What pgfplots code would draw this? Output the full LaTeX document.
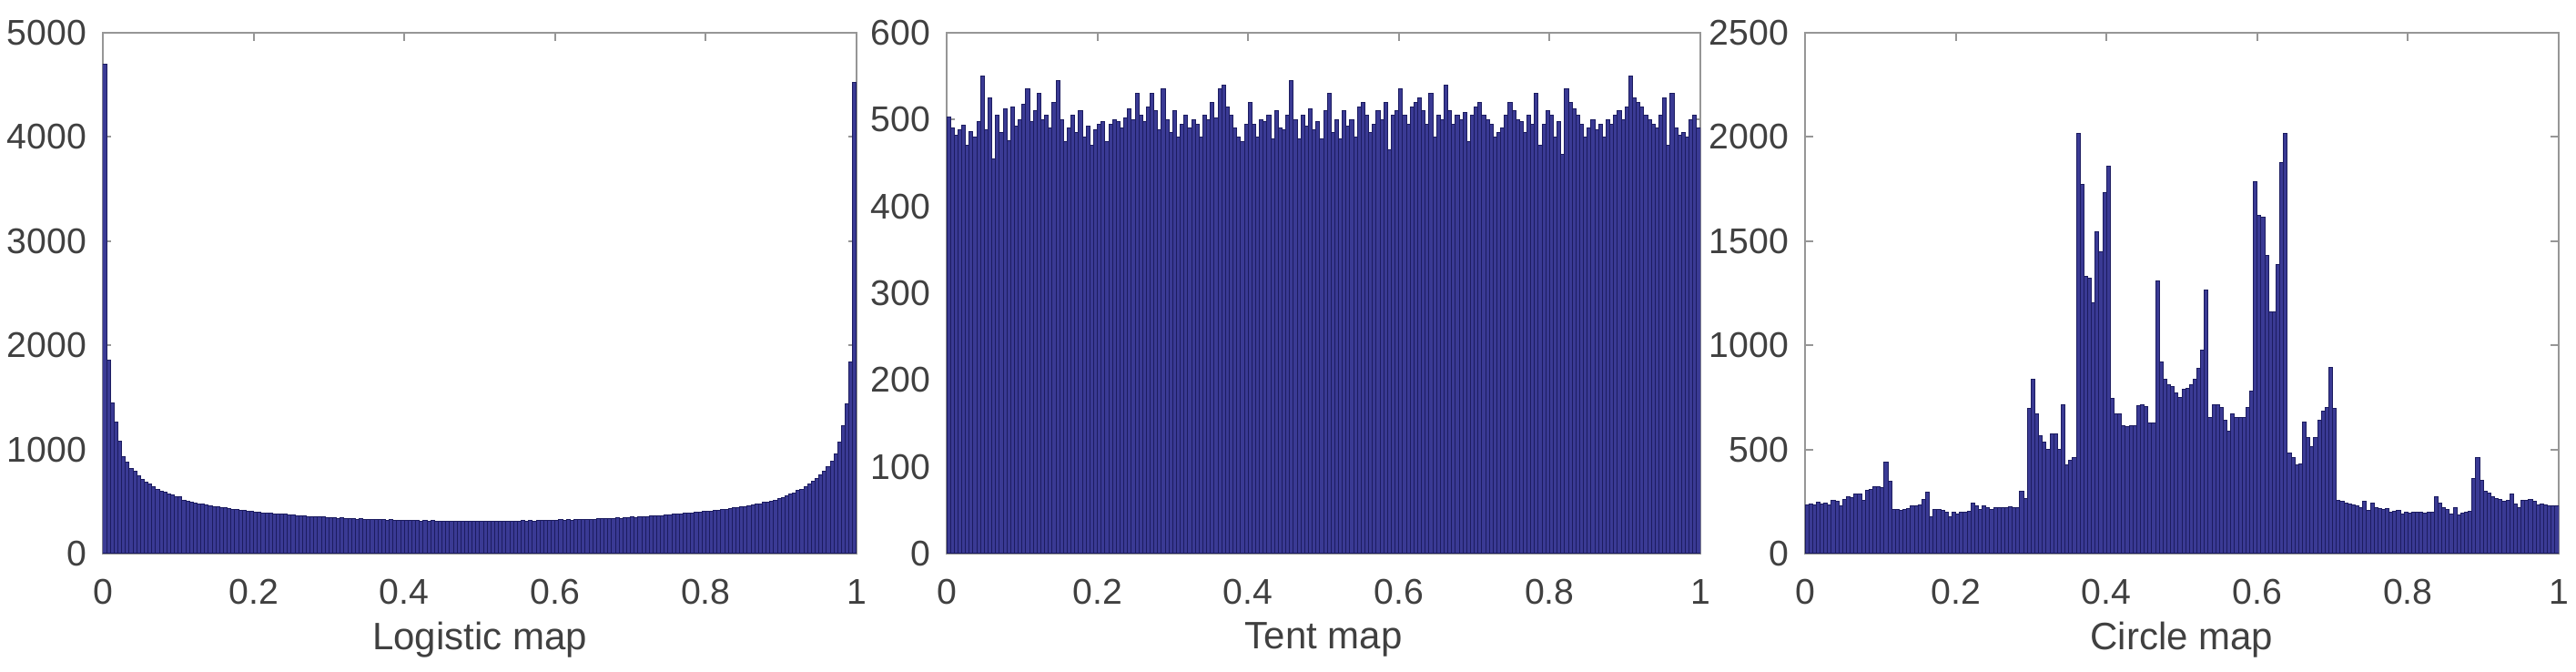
\documentclass[border=0pt]{standalone}
\usepackage{fontspec}
\setmainfont{Liberation Sans}
\usepackage{pgfplots}
\usepackage{pgfplotstable}
\pgfplotsset{compat=1.18}
\definecolor{barfill}{RGB}{58,58,148}
\definecolor{baredge}{RGB}{28,28,96}
\definecolor{boxgray}{RGB}{150,150,150}
\definecolor{ticktext}{RGB}{64,64,64}

% 200 bins each, last value repeated to close the final interval
\pgfplotstableread[row sep=\\]{v\\
4700\\1860\\1450\\1260\\1080\\930\\880\\820\\790\\750\\
715\\690\\665\\640\\620\\600\\590\\575\\560\\548\\
550\\512\\505\\495\\488\\480\\472\\468\\458\\452\\
450\\440\\442\\432\\428\\425\\418\\412\\410\\404\\
400\\398\\392\\390\\388\\384\\380\\378\\376\\372\\
370\\366\\362\\362\\358\\356\\354\\352\\350\\348\\
346\\346\\340\\342\\338\\336\\336\\332\\334\\330\\
330\\326\\328\\324\\326\\322\\324\\320\\322\\318\\
320\\316\\318\\316\\314\\318\\312\\316\\312\\314\\
310\\314\\308\\312\\310\\308\\312\\306\\310\\308\\
310\\306\\312\\308\\310\\314\\306\\312\\310\\314\\
312\\316\\314\\318\\314\\320\\316\\318\\322\\318\\
320\\324\\322\\326\\322\\328\\326\\330\\328\\332\\
330\\334\\336\\334\\340\\338\\342\\340\\346\\344\\
350\\348\\352\\356\\354\\360\\362\\366\\364\\370\\
372\\376\\380\\378\\386\\388\\392\\396\\400\\404\\
405\\410\\414\\418\\424\\428\\432\\438\\442\\448\\
452\\458\\466\\472\\478\\490\\495\\505\\515\\530\\
540\\552\\570\\585\\605\\620\\645\\668\\695\\725\\
760\\795\\835\\890\\960\\1070\\1230\\1440\\1840\\4520\\
4520\\
}\logistic

\pgfplotstableread[row sep=\\]{v\\
503\\490\\482\\488\\494\\470\\486\\480\\498\\550\\
488\\525\\455\\505\\485\\512\\476\\515\\492\\500\\
518\\535\\498\\510\\530\\500\\505\\490\\520\\545\\
500\\475\\490\\505\\485\\510\\480\\492\\470\\488\\
495\\498\\475\\495\\500\\498\\490\\502\\512\\500\\
530\\505\\498\\515\\530\\510\\488\\535\\500\\485\\
510\\480\\495\\505\\490\\500\\495\\480\\505\\500\\
520\\502\\535\\540\\515\\505\\490\\480\\475\\495\\
520\\495\\480\\500\\498\\505\\478\\510\\490\\488\\
505\\545\\500\\478\\505\\492\\512\\488\\498\\478\\
510\\530\\485\\500\\478\\510\\492\\500\\480\\515\\
520\\505\\485\\495\\510\\500\\520\\465\\505\\510\\
535\\505\\495\\515\\520\\525\\510\\495\\530\\480\\
505\\500\\540\\510\\495\\505\\500\\508\\475\\505\\
515\\520\\505\\500\\495\\480\\485\\490\\505\\520\\
510\\500\\498\\485\\505\\495\\530\\470\\495\\510\\
505\\480\\498\\460\\535\\520\\512\\505\\495\\480\\
490\\500\\488\\495\\480\\500\\495\\505\\510\\500\\
515\\550\\525\\520\\515\\505\\500\\495\\490\\505\\
525\\470\\530\\490\\482\\485\\480\\500\\505\\490\\
490\\
}\tent

\pgfplotstableread[row sep=\\]{v\\
235\\238\\232\\248\\240\\242\\235\\255\\250\\228\\
262\\272\\268\\287\\285\\257\\305\\310\\322\\323\\
316\\441\\346\\213\\210\\206\\210\\215\\228\\230\\
235\\262\\294\\176\\213\\210\\206\\200\\176\\199\\
191\\199\\198\\205\\243\\228\\213\\228\\222\\213\\
222\\220\\222\\220\\224\\220\\222\\300\\265\\698\\
838\\669\\566\\537\\500\\574\\574\\500\\713\\426\\
450\\460\\2018\\1772\\1331\\1320\\1206\\1544\\1449\\1735\\
1858\\743\\669\\669\\612\\610\\612\\615\\710\\713\\
706\\625\\625\\1309\\919\\838\\809\\801\\770\\750\\
787\\794\\810\\838\\890\\978\\1265\\654\\713\\713\\
700\\640\\588\\669\\654\\654\\654\\700\\779\\1786\\
1625\\1615\\1430\\1160\\1160\\1386\\1878\\2018\\485\\463\\
426\\430\\632\\559\\515\\559\\640\\684\\700\\893\\
699\\257\\250\\243\\240\\235\\228\\220\\250\\206\\
243\\220\\218\\213\\215\\199\\205\\206\\191\\199\\
195\\199\\197\\199\\196\\199\\200\\272\\243\\220\\
210\\191\\220\\184\\195\\199\\205\\360\\463\\353\\
301\\290\\272\\265\\262\\250\\255\\287\\240\\220\\
257\\255\\258\\252\\235\\238\\235\\228\\230\\228\\
228\\
}\circlemap

\pgfplotsset{
  histpanel/.style={
    scale only axis,
    width=207pt, height=143pt,
    anchor=south west,
    xmin=0, xmax=200, ymin=0,
    enlarge x limits=false,
    xtick={0,40,80,120,160,200},
    xticklabels={0,0.2,0.4,0.6,0.8,1},
    tick align=inside,
    major tick length=2.2pt,
    axis line style={boxgray, line width=0.6pt},
    every tick/.style={boxgray, line width=0.5pt},
    tick label style={font=\fontsize{9.8}{11}\selectfont, text=ticktext},
    label style={font=\fontsize{10.5}{12}\selectfont, text=ticktext},
    /pgf/number format/assume math mode=true,
    /pgf/number format/1000 sep={},
    scaled y ticks=false,
    xticklabel style={yshift=-3.5pt},
    yticklabel style={xshift=-1pt},
    xlabel style={yshift=2pt},
  },
  histbars/.style={ybar interval, fill=barfill, draw=baredge, line width=0.25pt},
}

\begin{document}
\begin{tikzpicture}
\path[use as bounding box] (0,0) rectangle (707.5pt,184.5pt);

\begin{axis}[histpanel, at={(28.25pt,32.5pt)},
    ymax=5000, ytick={0,1000,2000,3000,4000,5000},
    xlabel={Logistic map}]
\addplot[histbars] table[x expr=\coordindex, y=v] {\logistic};
\end{axis}

\begin{axis}[histpanel, at={(260pt,32.5pt)},
    ymax=600, ytick={0,100,200,300,400,500,600},
    xlabel={Tent map}]
\addplot[histbars] table[x expr=\coordindex, y=v] {\tent};
\end{axis}

\begin{axis}[histpanel, at={(495.75pt,32.5pt)},
    ymax=2500, ytick={0,500,1000,1500,2000,2500},
    xlabel={Circle map}]
\addplot[histbars] table[x expr=\coordindex, y=v] {\circlemap};
\end{axis}
\end{tikzpicture}
\end{document}
